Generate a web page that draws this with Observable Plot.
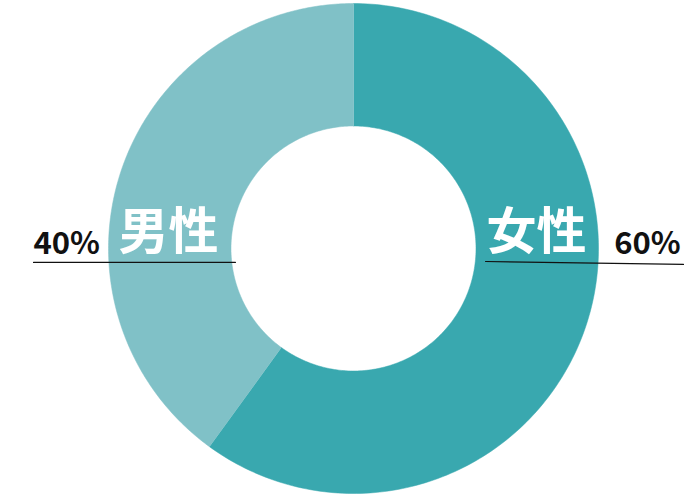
<!DOCTYPE html>
<html><head><meta charset="utf-8">
<script src="https://cdn.jsdelivr.net/npm/d3@7"></script>
<script src="https://cdn.jsdelivr.net/npm/@observablehq/plot@0.6"></script>
<style>body{margin:0;background:#fff}</style>
</head><body><div id="chart"></div>
<script>
const categories = ["女性", "男性"];
const values = [60, 40];
const percentLabels = ["60%", "40%"];
const colors = ["#39a8af", "#80c1c7"];

const inner = 0.5;
const pie = d3.pie().sort(null)(values);
const pts = [];
pie.forEach((s, i) => {
  const n = 200;
  for (let k = 0; k <= n; k++) {
    const a = s.startAngle + (s.endAngle - s.startAngle) * k / n;
    pts.push({cat: categories[i], x: Math.sin(a), y: Math.cos(a)});
  }
  for (let k = n; k >= 0; k--) {
    const a = s.startAngle + (s.endAngle - s.startAngle) * k / n;
    pts.push({cat: categories[i], x: inner * Math.sin(a), y: inner * Math.cos(a)});
  }
});

const labels = [
  {t: categories[0], x: 0.747, y: 0.065},
  {t: categories[1], x: -0.755, y: 0.065}
];
const pcts = [
  {t: percentLabels[0], x: 1.2, y: 0.018},
  {t: percentLabels[1], x: -1.171, y: 0.02}
];
const leaders = [
  {g: "f", x: 0.539, y: -0.053}, {g: "f", x: 1.347, y: -0.065},
  {g: "m", x: -1.306, y: -0.057}, {g: "m", x: -0.482, y: -0.057}
];

const chart = Plot.plot({
  width: 695, height: 500, margin: 0,
  x: {domain: [-1, 1], range: [108, 598], axis: null},
  y: {domain: [-1, 1], range: [493, 3], axis: null},
  color: {domain: categories, range: colors},
  style: {fontFamily: "'Noto Sans CJK JP', 'Noto Sans', sans-serif"},
  marks: [
    Plot.line(pts, {x: "x", y: "y", z: "cat", fill: "cat", stroke: "cat", strokeWidth: 0.5, curve: "linear"}),
    Plot.line(leaders, {x: "x", y: "y", z: "g", stroke: "#111", strokeWidth: 1.2}),
    Plot.text(labels, {x: "x", y: "y", text: "t", fill: "white", fontSize: 50, fontWeight: "bold"}),
    Plot.text(pcts, {x: "x", y: "y", text: "t", fill: "#111", fontSize: 31, fontWeight: "bold"})
  ]
});
document.getElementById("chart").append(chart);
</script></body></html>
